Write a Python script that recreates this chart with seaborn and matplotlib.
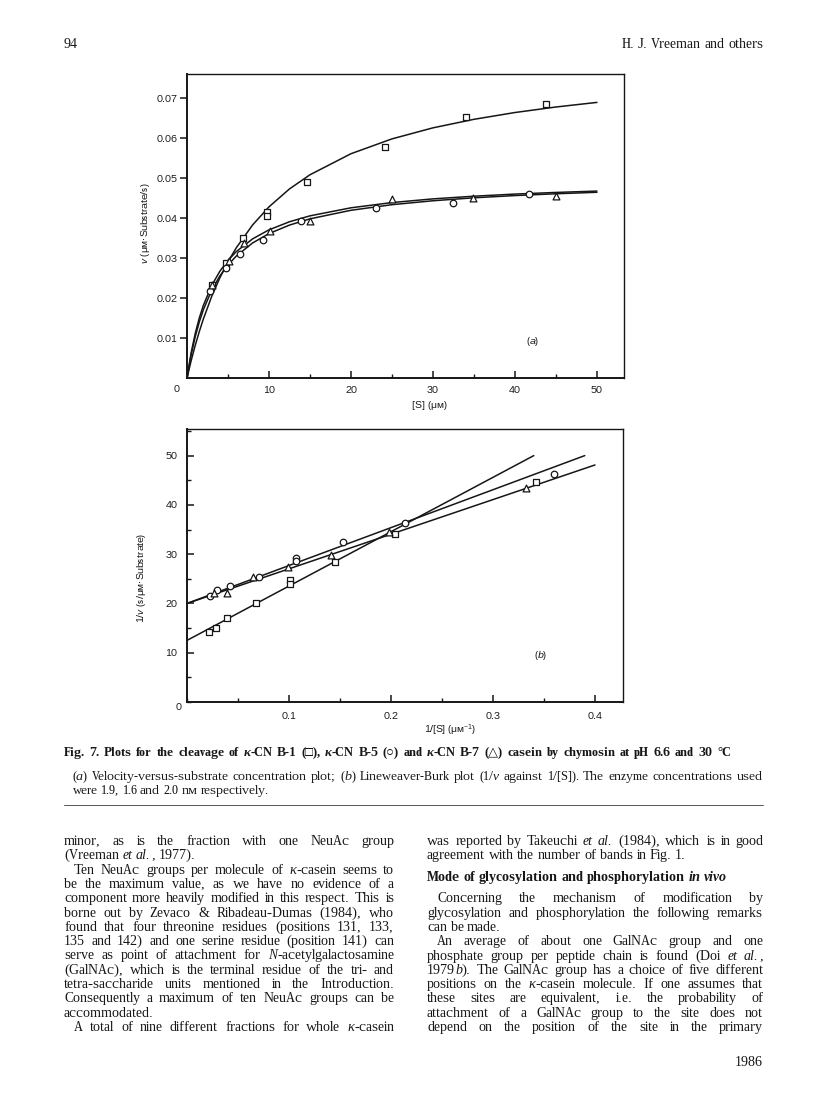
import matplotlib
matplotlib.use('Agg')
import seaborn as sns
import matplotlib.pyplot as plt
from matplotlib.ticker import MultipleLocator

# ---------------- data ----------------
# (a) velocity v (uM substrate/s) against [S] (uM)
s_b1 = [3.0, 4.7, 6.8, 9.7, 9.7, 14.6, 24.2, 34.0, 43.8]
v_b1 = [0.0233, 0.0287, 0.0349, 0.0416, 0.0404, 0.0489, 0.0578, 0.0652, 0.0686]
s_b5 = [2.8, 4.76, 6.46, 9.27, 13.9, 23.1, 32.4, 41.7]
v_b5 = [0.0218, 0.0276, 0.0309, 0.0345, 0.0393, 0.0425, 0.0437, 0.0459]
s_b7 = [3.05, 5.1, 6.95, 10.1, 15.0, 25.0, 34.9, 45.0]
v_b7 = [0.0233, 0.0293, 0.0337, 0.0367, 0.0393, 0.0448, 0.0449, 0.0455]

# fitted curves in (a)
s_fit = [0, 0.5, 1, 1.5, 2, 3, 4, 5, 6, 8, 10, 12.5, 15, 20, 25, 30, 35, 40, 45, 50]
fit_b1 = [0, 0.00428, 0.00813, 0.01161, 0.01478, 0.02033, 0.02502, 0.02904, 0.03252,
          0.03826, 0.04279, 0.04727, 0.05081, 0.05607, 0.05978, 0.06254, 0.06467,
          0.06637, 0.06775, 0.0689]
fit_b5 = [0, 0.00575, 0.01031, 0.01402, 0.01709, 0.0219, 0.02548, 0.02825, 0.03046,
          0.03376, 0.0361, 0.03823, 0.03979, 0.04193, 0.04333, 0.04431, 0.04505,
          0.04561, 0.04606, 0.04643]
fit_b7 = [0, 0.00625, 0.01111, 0.015, 0.01818, 0.02308, 0.02667, 0.02941, 0.03158,
          0.03478, 0.03704, 0.03906, 0.04054, 0.04255, 0.04386, 0.04478, 0.04545,
          0.04598, 0.04639, 0.04673]

# (b) Lineweaver-Burk: 1/v against 1/[S]
inv_s_b1 = [0.0212, 0.0281, 0.0395, 0.0673, 0.101, 0.101, 0.145, 0.204, 0.342]
inv_v_b1 = [14.3, 15.1, 17.0, 20.0, 24.7, 23.9, 28.4, 34.1, 44.7]
inv_s_b5 = [0.0225, 0.029, 0.042, 0.0706, 0.107, 0.107, 0.153, 0.214, 0.3595]
inv_v_b5 = [21.6, 22.8, 23.5, 25.3, 29.3, 28.7, 32.5, 36.3, 46.3]
inv_s_b7 = [0.0268, 0.0389, 0.065, 0.0987, 0.141, 0.198, 0.332]
inv_v_b7 = [22.2, 22.2, 25.4, 27.4, 29.8, 34.5, 43.5]

# regression lines in (b): end points
line_b1_x, line_b1_y = [0, 0.34], [12.5, 50.0]
line_b5_x, line_b5_y = [0, 0.39], [20.0, 50.0]
line_b7_x, line_b7_y = [0, 0.40], [20.0, 48.1]

# ---------------- page text ----------------
header_left = '94'
header_right = 'H. J. Vreeman and others'
footer_right = '1986'

caption_1 = ('Fig. 7. Plots for the cleavage of *κ*-CN B-1 (□), *κ*-CN B-5 (○) and '
             '*κ*-CN B-7 (△) casein by chymosin at pH 6.6 and 30 °C')
caption_2 = ('(*a*) Velocity-versus-substrate concentration plot; (*b*) Lineweaver-Burk '
             'plot (1/*v* against 1/[S]). The enzyme concentrations used')
caption_3 = 'were 1.9, 1.6 and 2.0 nм respectively.'

# (text, indent, justify)
left_col = [
    ('minor, as is the fraction with one NeuAc group', 0, True),
    ('(Vreeman *et al.*, 1977).', 0, False),
    ('Ten NeuAc groups per molecule of *κ*-casein seems to', 1, True),
    ('be the maximum value, as we have no evidence of a', 0, True),
    ('component more heavily modified in this respect. This is', 0, True),
    ('borne out by Zevaco & Ribadeau-Dumas (1984), who', 0, True),
    ('found that four threonine residues (positions 131, 133,', 0, True),
    ('135 and 142) and one serine residue (position 141) can', 0, True),
    ('serve as point of attachment for *N*-acetylgalactosamine', 0, True),
    ('(GalNAc), which is the terminal residue of the tri- and', 0, True),
    ('tetra-saccharide units mentioned in the Introduction.', 0, True),
    ('Consequently a maximum of ten NeuAc groups can be', 0, True),
    ('accommodated.', 0, False),
    ('A total of nine different fractions for whole *κ*-casein', 1, True),
]
right_col = [
    ('was reported by Takeuchi *et al.* (1984), which is in good', 0, True),
    ('agreement with the number of bands in Fig. 1.', 0, False),
    ('Concerning the mechanism of modification by', 1, True),
    ('glycosylation and phosphorylation the following remarks', 0, True),
    ('can be made.', 0, False),
    ('An average of about one GalNAc group and one', 1, True),
    ('phosphate group per peptide chain is found (Doi *et al.*,', 0, True),
    ('1979*b*). The GalNAc group has a choice of five different', 0, True),
    ('positions on the *κ*-casein molecule. If one assumes that', 0, True),
    ('these sites are equivalent, i.e. the probability of', 0, True),
    ('attachment of a GalNAc group to the site does not', 0, True),
    ('depend on the position of the site in the primary', 0, True),
]
heading = 'Mode of glycosylation and phosphorylation *in vivo*'

# ---------------- style ----------------
sns.set_theme(style='ticks')
SANS = ['Liberation Sans', 'DejaVu Sans']
SERIF = ['Liberation Serif', 'DejaVu Sans']
plt.rcParams['font.family'] = SANS
plt.rcParams['mathtext.fontset'] = 'custom'
plt.rcParams['mathtext.rm'] = 'Liberation Sans'
plt.rcParams['mathtext.it'] = 'Liberation Sans:italic'
# grid-fitted glyphs keep the baselines of separate words on one pixel row
plt.rcParams['text.hinting'] = 'native'
plt.rcParams['text.hinting_factor'] = 1
INK = '#161616'

W_PX, H_PX = 816, 1097
fig = plt.figure(figsize=(W_PX / 100, H_PX / 100), dpi=100)
fig.patch.set_facecolor('white')


def fx(x):
    return x / W_PX


def fy(y):
    return 1 - y / H_PX


def style_axes(ax):
    for side in ['left', 'bottom']:
        ax.spines[side].set_linewidth(1.4)
    for side in ['top', 'right']:
        ax.spines[side].set_visible(True)
        ax.spines[side].set_linewidth(1.0)
    for sp in ax.spines.values():
        sp.set_color(INK)
    ax.set_facecolor('white')
    ax.set_xlabel('')
    ax.set_ylabel('')
    for lab in ax.get_xticklabels() + ax.get_yticklabels():
        lab.set_fontsize(7)
        lab.set_color(INK)


def points(ax, xs, ys, marker, size):
    sns.scatterplot(x=xs, y=ys, ax=ax, marker=marker, s=size, color='white',
                    edgecolor=INK, linewidth=0.9, zorder=4, legend=False)


# ---------------- (a) ----------------
ax1 = fig.add_axes([fx(187), fy(378), fx(624) - fx(187), fy(74) - fy(378)])
for curve in [fit_b1, fit_b5, fit_b7]:
    sns.lineplot(x=s_fit, y=curve, ax=ax1, color=INK, lw=1.1, estimator=None, sort=False)
points(ax1, s_b1, v_b1, 's', 20)
points(ax1, s_b5, v_b5, 'o', 22)
points(ax1, s_b7, v_b7, '^', 24)
ax1.set_xlim(0, 53.3)
ax1.set_ylim(0, 0.076)
ax1.set_xticks([10, 20, 30, 40, 50])
ax1.set_xticklabels(['10', '20', '30', '40', '50'])
ax1.xaxis.set_minor_locator(MultipleLocator(5))
ax1.set_yticks([0.01, 0.02, 0.03, 0.04, 0.05, 0.06, 0.07])
ax1.set_yticklabels(['0.01', '0.02', '0.03', '0.04', '0.05', '0.06', '0.07'])
ax1.tick_params(axis='x', which='major', direction='in', length=5, width=1.1, pad=6, color=INK)
ax1.tick_params(axis='x', which='minor', direction='in', length=3, width=1.0, color=INK)
ax1.tick_params(axis='y', which='major', direction='out', length=5, width=1.1, pad=2, color=INK)
style_axes(ax1)

# ---------------- (b) ----------------
ax2 = fig.add_axes([fx(187), fy(702), fx(623) - fx(187), fy(429) - fy(702)])
for lx, ly in [(line_b1_x, line_b1_y), (line_b5_x, line_b5_y), (line_b7_x, line_b7_y)]:
    sns.lineplot(x=lx, y=ly, ax=ax2, color=INK, lw=1.1, estimator=None, sort=False)
points(ax2, inv_s_b1, inv_v_b1, 's', 20)
points(ax2, inv_s_b5, inv_v_b5, 'o', 22)
points(ax2, inv_s_b7, inv_v_b7, '^', 24)
ax2.set_xlim(0, 0.4275)
ax2.set_ylim(0, 55.4)
ax2.set_xticks([0.1, 0.2, 0.3, 0.4])
ax2.set_xticklabels(['0.1', '0.2', '0.3', '0.4'])
ax2.xaxis.set_minor_locator(MultipleLocator(0.05))
ax2.set_yticks([10, 20, 30, 40, 50])
ax2.set_yticklabels(['10', '20', '30', '40', '50'])
ax2.yaxis.set_minor_locator(MultipleLocator(5))
ax2.tick_params(axis='x', which='major', direction='in', length=5, width=1.1, pad=7.5, color=INK)
ax2.tick_params(axis='x', which='minor', direction='in', length=3, width=1.0, color=INK)
ax2.tick_params(axis='y', which='major', direction='in', length=5, width=1.1, pad=7, color=INK)
ax2.tick_params(axis='y', which='minor', direction='in', length=3, width=1.0, color=INK)
style_axes(ax2)

# chart labels
fig.text(fx(177), fy(390), '0', fontsize=7, ha='center', va='center', color=INK)
fig.text(fx(179), fy(707), '0', fontsize=7, ha='center', va='center', color=INK)
fig.text(fx(145), fy(223), r'$\it{v}$ (μм·Substrate/s)', fontsize=7.2, rotation=90,
         ha='center', va='center', color=INK)
fig.text(fx(142), fy(578), r'1/$\it{v}$ (s/μм·Substrate)', fontsize=7.0, rotation=90,
         ha='center', va='center', color=INK)
fig.text(fx(430), fy(406), '[S] (μм)', fontsize=7, ha='center', va='center', color=INK)
fig.text(fx(450), fy(730), r'1/[S] (μм$^{-1}$)', fontsize=7, ha='center', va='center', color=INK)
fig.text(fx(533), fy(341), r'($\it{a}$)', fontsize=7, ha='center', va='center', color=INK)
fig.text(fx(541), fy(656), r'($\it{b}$)', fontsize=7, ha='center', va='center', color=INK)

# ---------------- page text (one text per word, justified) ----------------
renderer = fig.canvas.get_renderer()


def parse(line):
    words, cur, buf, italic = [], [], '', False
    for ch in line:
        if ch == '*':
            if buf:
                cur.append((buf, italic))
                buf = ''
            italic = not italic
        elif ch == ' ':
            if buf:
                cur.append((buf, italic))
                buf = ''
            if cur:
                words.append(cur)
                cur = []
        else:
            buf += ch
    if buf:
        cur.append((buf, italic))
    if cur:
        words.append(cur)
    return words


def text_line(x0, x1, y, line, size, justify=True, weight='normal', right=False):
    words = parse(line)
    placed, total = [], 0
    for w in words:
        arts, ww = [], 0
        for piece, it in w:
            t = fig.text(0, 0, piece, fontsize=size, family=SERIF, color=INK,
                         fontstyle='italic' if it else 'normal', fontweight=weight,
                         ha='left', va='baseline')
            wd = t.get_window_extent(renderer).width
            arts.append((t, wd))
            ww += wd
        placed.append((arts, ww))
        total += ww
    space = size * 100 / 72 * 0.25
    if justify and len(words) > 1:
        space = max((x1 - x0 - total) / (len(words) - 1), 1.5)
    x = x0
    if right:
        x = x1 - total - space * (len(words) - 1)
    for arts, ww in placed:
        for t, wd in arts:
            t.set_position((fx(x), fy(round(y))))
            x += wd
        x += space


BODY = 10.1
text_line(64, 763, 48, header_left, 10, justify=False)
text_line(64, 763, 48, header_right, 9.8, justify=False, right=True)
text_line(64, 763, 1066, footer_right, 10, justify=False, right=True)

# the bold title line ends short of the right margin, as in the page
text_line(64, 731, 755.5, caption_1, 9.7, justify=True, weight='bold')
text_line(72, 763, 779.5, caption_2, 9.6, justify=True)
text_line(72, 763, 794, caption_3, 9.6, justify=False)
fig.add_artist(plt.Line2D([fx(64), fx(763)], [fy(805), fy(805)], color='#555555', lw=0.7))

step = 14.31
for i, (txt, ind, just) in enumerate(left_col):
    text_line(64 + 10 * ind, 394, 845 + i * step, txt, BODY, justify=just)

right_y = [845, 859.3, 902.4, 916.7, 931.0, 945.3, 959.6, 974.0, 988.2, 1002.5, 1016.8, 1031.1]
for (txt, ind, just), yy in zip(right_col, right_y):
    text_line(427 + 10 * ind, 763, yy, txt, BODY, justify=just)
text_line(427, 763, 881, heading, BODY, justify=False, weight='bold')

fig.savefig('out.png', dpi=100, facecolor='white')
